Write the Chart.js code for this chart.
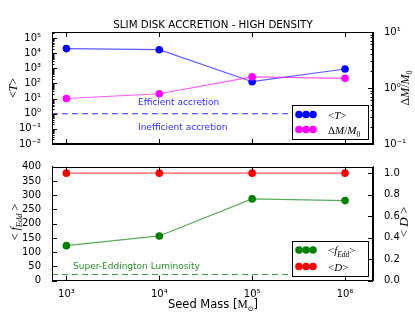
<!DOCTYPE html>
<html>
<head>
<meta charset="utf-8">
<script src="https://cdn.jsdelivr.net/npm/chart.js@4.4.1/dist/chart.umd.min.js"></script>
<style>
  html, body { margin: 0; padding: 0; background: #fff; }
  #wrap { position: relative; width: 415px; height: 312px; }
  canvas { position: absolute; left: 0; }
  #topChart { top: 0; }
  #bottomChart { top: 155px; }
</style>
</head>
<body>
<div id="wrap">
  <canvas id="topChart" width="415" height="155" style="width:415px;height:155px"></canvas>
  <canvas id="bottomChart" width="415" height="157" style="width:415px;height:157px"></canvas>
</div>
<script>
// data
const seedMass = [1e3, 1e4, 1e5, 1e6];
const meanT = [2.0e4, 1.7e4, 130, 900];
const massGrowth = [0.65, 0.79, 1.58, 1.49];
const meanFedd = [123, 157, 287, 281];
const meanD = [1.0, 1.0, 1.0, 1.0];
const tThreshold = 1;
const eddThreshold = 22;

const xTicks = [1e3, 1e4, 1e5, 1e6];
const tTicks = [1e-2, 1e-1, 1e0, 1e1, 1e2, 1e3, 1e4, 1e5];
const dmTicks = [1e-1, 1e0, 1e1];
const feddTicks = [0, 50, 100, 150, 200, 250, 300, 350, 400];
const dTicks = [0, 0.2, 0.4, 0.6, 0.8, 1.0];

const X_MIN = 700, X_MAX = 2e6;
const SANS = 'DejaVu Sans';
const SERIF = 'Liberation Serif';

const SUP = {'0':'⁰','1':'¹','2':'²','3':'³','4':'⁴','5':'⁵','6':'⁶','7':'⁷','8':'⁸','9':'⁹','-':'⁻'};
function pow10Label(v) {
    const e = Math.round(Math.log10(v));
    return '10' + String(e).split('').map(c => SUP[c]).join('');
}

function pts(xs, ys) {
    return xs.map((x, i) => ({x: x, y: ys[i]}));
}

function fixedTicks(list) {
    return function(scale) {
        scale.ticks = list.map(v => ({value: v}));
    };
}

function drawRuns(ctx, runs, x, y, align, angle, color) {
    ctx.save();
    ctx.translate(x, y);
    if (angle) ctx.rotate(angle);
    ctx.fillStyle = color || '#000';
    ctx.textBaseline = 'alphabetic';
    let w = 0;
    runs.forEach(r => { ctx.font = r.font; r.w = ctx.measureText(r.text).width; w += r.w; });
    let cx = align === 'center' ? -w / 2 : (align === 'right' ? -w : 0);
    runs.forEach(r => {
        ctx.font = r.font;
        ctx.fillText(r.text, cx, r.dy || 0);
        cx += r.w;
    });
    ctx.restore();
}

function line(ctx, x1, y1, x2, y2) {
    ctx.beginPath();
    ctx.moveTo(x1, y1);
    ctx.lineTo(x2, y2);
    ctx.stroke();
}

// frame plus inward matplotlib-like ticks
const frameTicks = {
    id: 'frameTicks',
    afterDraw(chart) {
        const ctx = chart.ctx;
        const a = chart.chartArea;
        ctx.save();
        ctx.strokeStyle = '#000';
        ctx.lineWidth = 1;
        ctx.strokeRect(Math.round(a.left) + 0.5, Math.round(a.top) + 0.5,
            Math.round(a.right - a.left) - 1, Math.round(a.bottom - a.top) - 1);
        const xs = chart.scales.x;
        xs.ticks.forEach(t => {
            const px = Math.round(xs.getPixelForValue(t.value)) + 0.5;
            line(ctx, px, a.bottom, px, a.bottom - 5);
            line(ctx, px, a.top, px, a.top + 5);
        });
        ['y', 'y1'].forEach(id => {
            const s = chart.scales[id];
            const left = s.position === 'left';
            const edge = left ? a.left : a.right;
            const dir = left ? 1 : -1;
            s.ticks.forEach(t => {
                const py = Math.round(s.getPixelForValue(t.value)) + 0.5;
                line(ctx, edge, py, edge + dir * 5, py);
            });
            if (s.type === 'logarithmic') {
                const lo = Math.floor(Math.log10(s.min)), hi = Math.ceil(Math.log10(s.max));
                for (let d = lo; d < hi; d++) {
                    for (let k = 2; k < 10; k++) {
                        const v = k * Math.pow(10, d);
                        if (v < s.min || v > s.max) continue;
                        const py = Math.round(s.getPixelForValue(v)) + 0.5;
                        line(ctx, edge, py, edge + dir * 2.5, py);
                    }
                }
            }
        });
        ctx.restore();
    }
};

function legendBox(ctx, x, y, w, h, entries) {
    ctx.save();
    ctx.fillStyle = '#fff';
    ctx.fillRect(x, y, w, h);
    ctx.strokeStyle = '#000';
    ctx.lineWidth = 1;
    ctx.strokeRect(x + 0.5, y + 0.5, w, h);
    entries.forEach(e => {
        ctx.fillStyle = e.color;
        [0, 7, 14].forEach(dx => {
            ctx.beginPath();
            ctx.arc(x + 7 + dx, e.y, 3.8, 0, Math.PI * 2);
            ctx.fill();
        });
        drawRuns(ctx, e.runs, x + 36, e.y + 4, 'left');
    });
    ctx.restore();
}

function italic(px) { return 'italic ' + px + 'px ' + SERIF; }
function roman(px) { return px + 'px ' + SERIF; }

const topText = {
    id: 'topText',
    afterDraw(chart) {
        const ctx = chart.ctx;
        drawRuns(ctx, [{text: 'SLIM DISK ACCRETION - HIGH DENSITY', font: '10.3px ' + SANS}], 213, 28, 'center');
        drawRuns(ctx, [{text: 'Efficient accretion', font: '9px ' + SANS}], 138, 105, 'left', 0, 'rgba(0,0,255,0.85)');
        drawRuns(ctx, [{text: 'Inefficient accretion', font: '9px ' + SANS}], 138, 130, 'left', 0, 'rgba(0,0,255,0.85)');
        drawRuns(ctx, [
            {text: '<', font: roman(12)}, {text: 'T', font: italic(12)}, {text: '>', font: roman(12)}
        ], 17, 88, 'center', -Math.PI / 2);
        drawRuns(ctx, [
            {text: 'Δ', font: roman(12)}, {text: 'M', font: italic(12)}, {text: '/', font: roman(12)},
            {text: 'M', font: italic(12)}, {text: '0', font: roman(8), dy: 3}
        ], 409, 88, 'center', -Math.PI / 2);
        legendBox(ctx, 292, 105, 76, 34, [
            {color: '#0000ff', y: 114.5, runs: [{text: '<', font: roman(11)}, {text: 'T', font: italic(11)}, {text: '>', font: roman(11)}]},
            {color: '#ff00ff', y: 129.5, runs: [{text: 'Δ', font: roman(11)}, {text: 'M', font: italic(11)}, {text: '/', font: roman(11)},
                {text: 'M', font: italic(11)}, {text: '0', font: roman(7.5), dy: 3}]}
        ]);
    }
};

const OFF = 155;
const bottomText = {
    id: 'bottomText',
    afterDraw(chart) {
        const ctx = chart.ctx;
        drawRuns(ctx, [{text: 'Super-Eddington Luminosity', font: '9px ' + SANS}], 73, 269 - OFF, 'left', 0, 'rgba(0,128,0,0.85)');
        drawRuns(ctx, [
            {text: '< ', font: roman(12)}, {text: 'f', font: italic(12)}, {text: 'Edd', font: italic(8.5), dy: 3}, {text: ' >', font: roman(12)}
        ], 19, 222 - OFF, 'center', -Math.PI / 2);
        drawRuns(ctx, [
            {text: '< ', font: roman(13)}, {text: 'D', font: italic(13)}, {text: ' >', font: roman(13)}
        ], 408, 222 - OFF, 'center', -Math.PI / 2);
        drawRuns(ctx, [
            {text: 'Seed Mass [', font: '11.5px ' + SANS}, {text: 'M', font: roman(11.5)},
            {text: '⊙', font: '7px ' + SANS, dy: 3}, {text: ']', font: '11.5px ' + SANS}
        ], 213, 308 - OFF, 'center');
        legendBox(ctx, 292, 241 - OFF, 76, 35, [
            {color: '#008000', y: 250 - OFF, runs: [{text: '<', font: roman(11)}, {text: 'f', font: italic(11)},
                {text: 'Edd', font: italic(7.5), dy: 3}, {text: '>', font: roman(11)}]},
            {color: '#ff0000', y: 266.5 - OFF, runs: [{text: '<', font: roman(11)}, {text: 'D', font: italic(11)}, {text: '>', font: roman(11)}]}
        ]);
    }
};

const tickFont = {family: SANS, size: 10};

function xScale(showLabels, height) {
    return {
        type: 'logarithmic',
        min: X_MIN,
        max: X_MAX,
        afterBuildTicks: fixedTicks(xTicks),
        afterFit(s) { s.height = height; },
        grid: {display: false},
        border: {display: true, color: '#000'},
        ticks: {display: showLabels, color: '#000', font: tickFont, padding: 0, maxRotation: 0,
            autoSkip: false, callback: v => pow10Label(v)}
    };
}

function yScale(pos, type, min, max, list, labelFn, width) {
    return {
        type: type,
        position: pos,
        min: min,
        max: max,
        afterBuildTicks: fixedTicks(list),
        afterFit(s) { s.width = width; },
        grid: {display: false},
        border: {display: true, color: '#000'},
        ticks: {color: '#000', font: tickFont, padding: 3, autoSkip: false, callback: labelFn}
    };
}

new Chart(document.getElementById('topChart'), {
    type: 'line',
    data: {
        datasets: [
            {data: pts(seedMass, massGrowth), yAxisID: 'y1', order: 0,
             borderColor: 'rgba(255,0,255,0.65)', borderWidth: 1.2, pointRadius: 3.8, pointBorderWidth: 0,
             pointBackgroundColor: '#ff00ff'},
            {data: pts(seedMass, meanT), yAxisID: 'y', order: 1,
             borderColor: 'rgba(0,0,255,0.65)', borderWidth: 1.2, pointRadius: 3.8, pointBorderWidth: 0,
             pointBackgroundColor: '#0000ff'},
            {data: pts([X_MIN, X_MAX], [tThreshold, tThreshold]), yAxisID: 'y', order: 2,
             borderColor: 'rgba(0,0,255,0.8)', borderWidth: 1, borderDash: [6, 4], pointRadius: 0}
        ]
    },
    options: {
        responsive: false,
        animation: false,
        layout: {padding: {top: 32, left: 0, right: 0, bottom: 0}},
        plugins: {legend: {display: false}, tooltip: {enabled: false}},
        scales: {
            x: xScale(false, 11),
            y: yScale('left', 'logarithmic', 1e-2, 2.5e5, tTicks, v => pow10Label(v), 52),
            y1: yScale('right', 'logarithmic', 1e-1, 1e1, dmTicks, v => pow10Label(v), 42)
        }
    },
    plugins: [frameTicks, topText]
});

new Chart(document.getElementById('bottomChart'), {
    type: 'line',
    data: {
        datasets: [
            {data: pts(seedMass, meanD), yAxisID: 'y1', order: 0,
             borderColor: 'rgba(255,0,0,0.65)', borderWidth: 1.2, pointRadius: 3.8, pointBorderWidth: 0,
             pointBackgroundColor: '#ff0000'},
            {data: pts(seedMass, meanFedd), yAxisID: 'y', order: 1,
             borderColor: 'rgba(0,128,0,0.65)', borderWidth: 1.2, pointRadius: 3.8, pointBorderWidth: 0,
             pointBackgroundColor: '#008000'},
            {data: pts([X_MIN, X_MAX], [eddThreshold, eddThreshold]), yAxisID: 'y', order: 2,
             borderColor: 'rgba(0,128,0,0.8)', borderWidth: 1, borderDash: [6, 4], pointRadius: 0}
        ]
    },
    options: {
        responsive: false,
        animation: false,
        layout: {padding: {top: 11.7, left: 0, right: 0, bottom: 0}},
        plugins: {legend: {display: false}, tooltip: {enabled: false}},
        scales: {
            x: xScale(true, 31.3),
            y: yScale('left', 'linear', 0, 400, feddTicks, v => String(v), 52),
            y1: yScale('right', 'linear', 0, 1.06, dTicks, v => v.toFixed(1), 42)
        }
    },
    plugins: [frameTicks, bottomText]
});
</script>
</body>
</html>
